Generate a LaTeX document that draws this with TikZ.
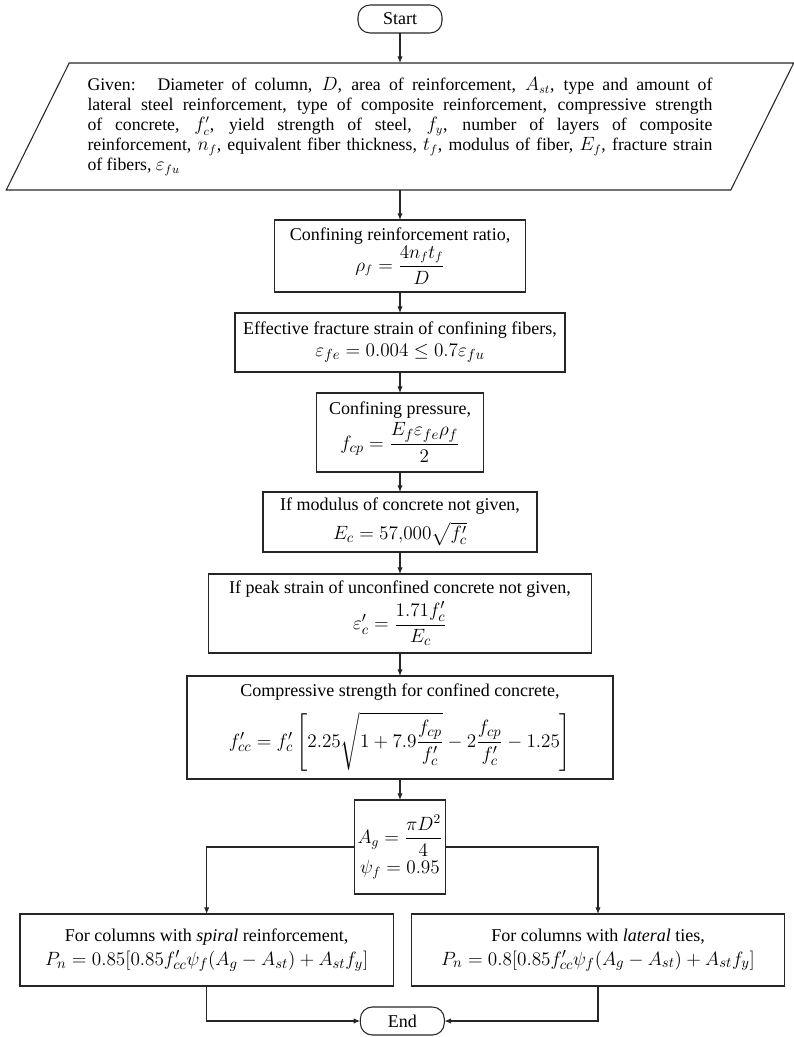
\documentclass[tikz,border=0pt]{standalone}
\usepackage{amsmath}
\usepackage{fontspec}
\setmainfont{Liberation Serif}
\usetikzlibrary{positioning,arrows.meta,calc}
\newcommand{\bigeq}{\fontsize{15}{18}\selectfont}

\begin{document}
\begin{tikzpicture}[
  x=0.75pt, y=-0.75pt,
  font=\fontsize{13.5}{16}\selectfont,
  box/.style={draw=black!85, line width=0.8pt, outer sep=0pt, align=center, inner sep=2pt},
  term/.style={box, rounded corners=9pt, minimum width=63pt, minimum height=21pt},
  arr/.style={draw=black!85, line width=0.8pt, -{Latex[length=5pt,width=4pt]}}
]
\useasboundingbox (0,0) rectangle (793,1037);
\node[term] (start) at (400,19) {Start};
\node[below=22.5pt of start, outer sep=0pt, minimum width=543.4pt, minimum height=95.25pt, text width=468.75pt, align=justify, inner sep=2pt, font=\fontsize{13.3}{15}\selectfont] (given) {Given:~ Diameter of column, $D$, area of reinforcement, $A_{st}$, type and amount of\linebreak lateral steel reinforcement, type of composite reinforcement, compressive strength\linebreak of concrete, $f_c'$, yield strength of steel, $f_y$, number of layers of composite\linebreak reinforcement, $n_f$, equivalent fiber thickness, $t_f$, modulus of fiber, $E_f$, fracture strain\linebreak of fibers, $\varepsilon_{fu}$};
\draw[draw=black!85, line width=0.8pt] ([xshift=23.6pt]given.north west) -- ([xshift=23.6pt]given.north east) -- ([xshift=-23.6pt]given.south east) -- ([xshift=-23.6pt]given.south west) -- cycle;
\node[box, below=22.5pt of given, minimum width=188.25pt, minimum height=54pt] (ratio) {Confining reinforcement ratio,\\ $\rho_f=\dfrac{4n_ft_f}{D}$};
\node[box, below=15.75pt of ratio, minimum width=247.5pt, minimum height=44.25pt] (strain) {Effective fracture strain of confining fibers,\\ {\bigeq $\varepsilon_{fe}=0.004\le 0.7\varepsilon_{fu}$}};
\node[box, below=15.75pt of strain, minimum width=125.25pt, minimum height=59.25pt] (press) {Confining pressure,\\[2pt] {\bigeq $f_{cp}=\dfrac{E_f\varepsilon_{fe}\rho_f}{2}$}};
\node[box, below=15pt of press, minimum width=205.5pt, minimum height=45pt] (modulus) {If modulus of concrete not given,\\[5pt] {\bigeq $E_c=57{,}000\sqrt{f_c'}$}};
\node[box, below=16.5pt of modulus, minimum width=287.25pt, minimum height=59.25pt] (peak) {If peak strain of unconfined concrete not given,\\[2pt] {\bigeq $\varepsilon_c'=\dfrac{1.71f_c'}{E_c}$}};
\node[box, below=17.25pt of peak, minimum width=319.5pt, minimum height=77.25pt] (fcc) {Compressive strength for confined concrete,\\[8pt] {\bigeq $f_{cc}'=f_c'\left[2.25\sqrt{1+7.9\dfrac{f_{cp}}{f_c'}}-2\dfrac{f_{cp}}{f_c'}-1.25\right]$}};
\node[box, below=15.75pt of fcc, minimum width=68.25pt, minimum height=70.5pt, font=\fontsize{14}{16}\selectfont] (ag) {$A_g=\dfrac{\pi D^2}{4}$\\[2pt] $\psi_f=0.95$};
\node[box, below=15pt of ag, xshift=-145pt, minimum width=280pt, minimum height=54pt] (spiral) {For columns with \emph{spiral} reinforcement,\\[2pt] {\bigeq $P_n=0.85[0.85f_{cc}'\psi_f(A_g-A_{st})+A_{st}f_y]$}};
\node[box, below=15pt of ag, xshift=148.5pt, minimum width=280pt, minimum height=54pt] (ties) {For columns with \emph{lateral} ties,\\[2pt] {\bigeq $P_n=0.8[0.85f_{cc}'\psi_f(A_g-A_{st})+A_{st}f_y]$}};
\coordinate (mid) at ($(spiral.south)!0.5!(ties.south)$);
\node[term, below=15.75pt of mid] (end) {End};
\draw[arr] (start) -- (given);
\draw[arr] (given) -- (ratio);
\draw[arr] (ratio) -- (strain);
\draw[arr] (strain) -- (press);
\draw[arr] (press) -- (modulus);
\draw[arr] (modulus) -- (peak);
\draw[arr] (peak) -- (fcc);
\draw[arr] (fcc) -- (ag);
\draw[arr] (ag.west) -| (spiral.north);
\draw[arr] (ag.east) -| (ties.north);
\draw[arr] (spiral.south) |- (end.west);
\draw[arr] (ties.south) |- (end.east);
\end{tikzpicture}
\end{document}
